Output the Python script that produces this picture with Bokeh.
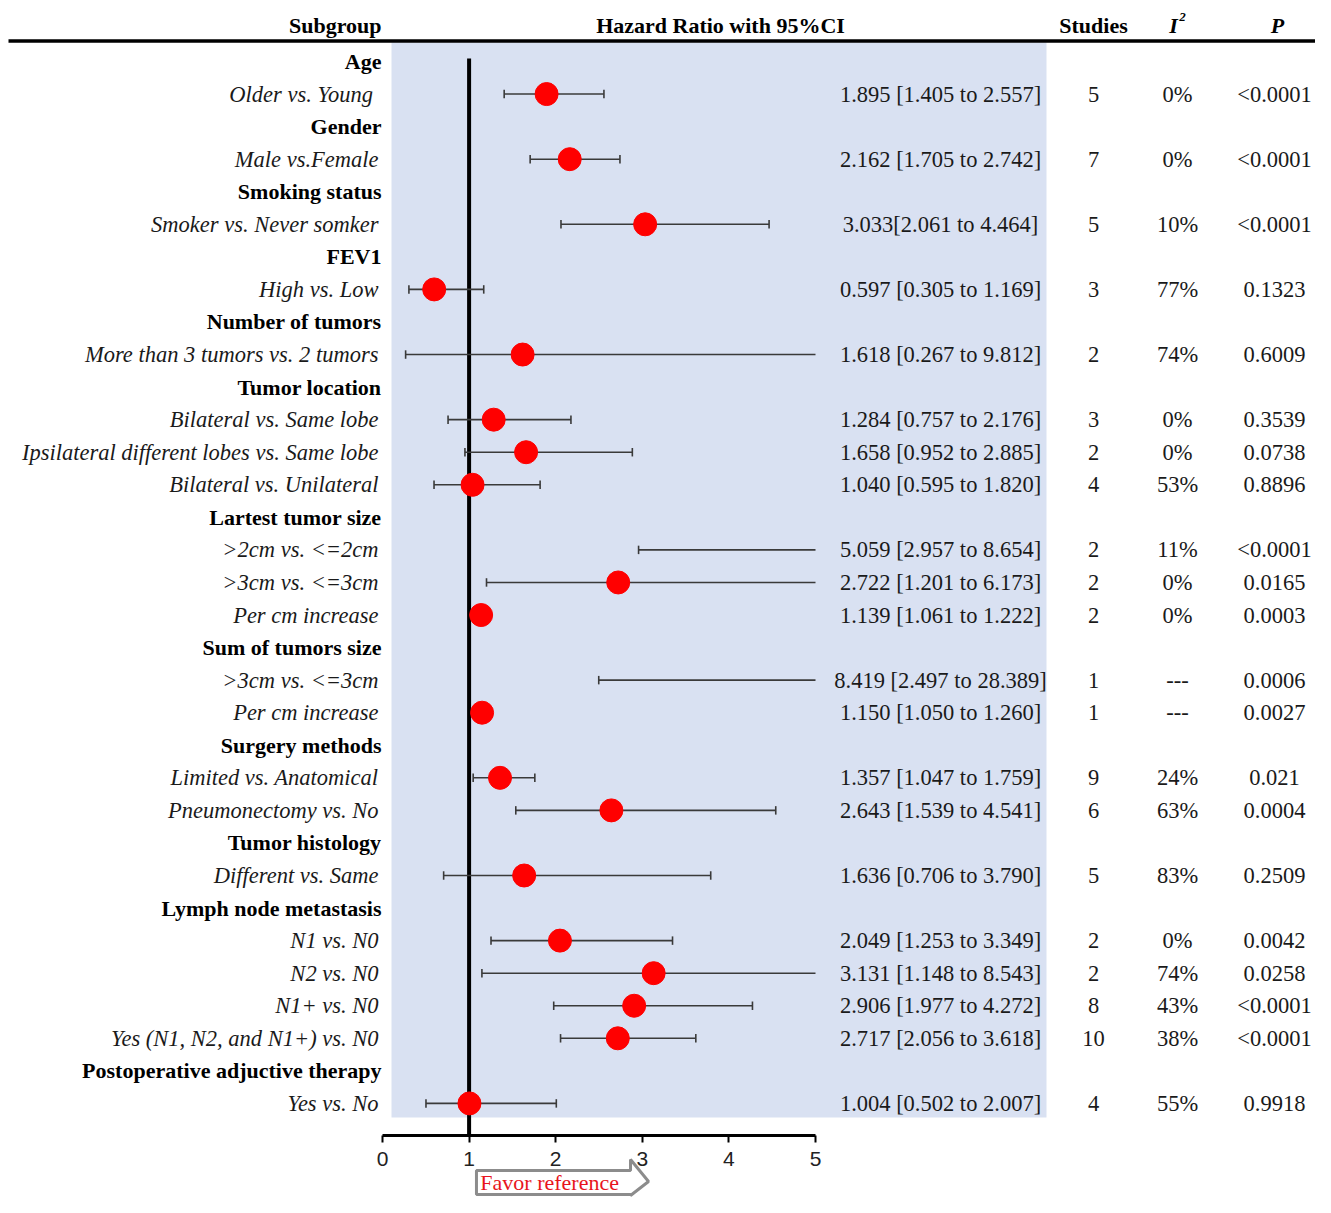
from bokeh.plotting import figure
from bokeh.models import ColumnDataSource, Range1d, LinearAxis, FixedTicker
from bokeh.core.properties import value
from bokeh.embed import file_html
from bokeh.resources import INLINE
import numpy as np

labels = ["Age", "Older vs.  Young", "Gender", "Male vs.Female", "Smoking status",
          "Smoker vs. Never somker", "FEV1", "High vs. Low", "Number of tumors",
          "More than 3 tumors vs. 2 tumors", "Tumor location", "Bilateral vs. Same lobe",
          "Ipsilateral different lobes vs. Same lobe", "Bilateral vs. Unilateral",
          "Lartest tumor size", ">2cm vs. <=2cm", ">3cm vs. <=3cm", "Per cm increase",
          "Sum of tumors size", ">3cm vs. <=3cm", "Per cm increase", "Surgery methods",
          "Limited vs. Anatomical", "Pneumonectomy vs. No", "Tumor histology",
          "Different vs. Same", "Lymph node metastasis", "N1 vs. N0", "N2 vs. N0",
          "N1+ vs. N0", "Yes (N1, N2, and N1+) vs. N0", "Postoperative adjuctive therapy",
          "Yes vs. No"]
is_header = [True, False, True, False, True, False, True, False, True, False, True,
             False, False, False, True, False, False, False, True, False, False, True,
             False, False, True, False, True, False, False, False, False, True, False]
hr = [None, 1.895, None, 2.162, None, 3.033, None, 0.597, None, 1.618, None, 1.284,
      1.658, 1.040, None, 5.059, 2.722, 1.139, None, 8.419, 1.150, None, 1.357, 2.643,
      None, 1.636, None, 2.049, 3.131, 2.906, 2.717, None, 1.004]
lower = [None, 1.405, None, 1.705, None, 2.061, None, 0.305, None, 0.267, None, 0.757,
         0.952, 0.595, None, 2.957, 1.201, 1.061, None, 2.497, 1.050, None, 1.047, 1.539,
         None, 0.706, None, 1.253, 1.148, 1.977, 2.056, None, 0.502]
upper = [None, 2.557, None, 2.742, None, 4.464, None, 1.169, None, 9.812, None, 2.176,
         2.885, 1.820, None, 8.654, 6.173, 1.222, None, 28.389, 1.260, None, 1.759, 4.541,
         None, 3.790, None, 3.349, 8.543, 4.272, 3.618, None, 2.007]
hr_text = ["", "1.895 [1.405 to 2.557]", "", "2.162 [1.705 to 2.742]", "",
           "3.033[2.061 to 4.464]", "", "0.597 [0.305 to 1.169]", "",
           "1.618 [0.267 to 9.812]", "", "1.284 [0.757 to 2.176]",
           "1.658 [0.952 to 2.885]", "1.040 [0.595 to 1.820]", "",
           "5.059 [2.957 to 8.654]", "2.722 [1.201 to 6.173]", "1.139 [1.061 to 1.222]", "",
           "8.419 [2.497 to 28.389]", "1.150 [1.050 to 1.260]", "",
           "1.357 [1.047 to 1.759]", "2.643 [1.539 to 4.541]", "",
           "1.636 [0.706 to 3.790]", "", "2.049 [1.253 to 3.349]", "3.131 [1.148 to 8.543]",
           "2.906 [1.977 to 4.272]", "2.717 [2.056 to 3.618]", "", "1.004 [0.502 to 2.007]"]
studies = ["", "5", "", "7", "", "5", "", "3", "", "2", "", "3", "2", "4", "", "2", "2",
           "2", "", "1", "1", "", "9", "6", "", "5", "", "2", "2", "8", "10", "", "4"]
i2 = ["", "0%", "", "0%", "", "10%", "", "77%", "", "74%", "", "0%", "0%", "53%", "",
      "11%", "0%", "0%", "", "---", "---", "", "24%", "63%", "", "83%", "", "0%", "74%",
      "43%", "38%", "", "55%"]
pvals = ["", "<0.0001", "", "<0.0001", "", "<0.0001", "", "0.1323", "", "0.6009", "",
         "0.3539", "0.0738", "0.8896", "", "<0.0001", "0.0165", "0.0003", "", "0.0006",
         "0.0027", "", "0.021", "0.0004", "", "0.2509", "", "0.0042", "0.0258", "<0.0001",
         "<0.0001", "", "0.9918"]
x_ticks = [0, 1, 2, 3, 4, 5]
x_max = 5.0

SERIF = value("Liberation Serif")
W, H = 1315, 1197
X0, XS = 382.0, 86.6          # pixel of HR=0, pixels per HR unit
Y0, YS = 61.0, 32.56          # pixel of row 0, pixels per row

p = figure(width=W, height=H, output_backend="svg", toolbar_location=None,
           x_range=Range1d(-X0 / XS, (W - X0) / XS),
           y_range=Range1d((H - Y0) / YS, -Y0 / YS),
           x_axis_location=None, y_axis_location=None,
           min_border_left=0, min_border_right=0, min_border_top=0, min_border_bottom=0)
p.extra_x_ranges = {"px": Range1d(0, W)}
p.outline_line_color = None
p.xgrid.visible = False
p.ygrid.visible = False
p.background_fill_color = "white"
p.border_fill_color = "white"


def ry(py):
    return (py - Y0) / YS


rows = np.arange(len(labels))

# blue background panel
p.quad(left=[391], right=[1046], top=[ry(42)], bottom=[ry(1117)], x_range_name="px",
       fill_color="#d9e1f2", line_color=None)

# header
p.segment(x0=[8], x1=[W], y0=[ry(40.5)], y1=[ry(40.5)], x_range_name="px",
          line_color="black", line_width=3.5)
hdr = dict(text_font=SERIF, text_font_style="bold", text_font_size="22px",
           text_baseline="middle", x_range_name="px", text_color="black")
p.text(x=[381], y=[ry(25)], text=["Subgroup"], text_align="right", **hdr)
p.text(x=[720], y=[ry(25)], text=["Hazard Ratio with 95%CI"], text_align="center", **hdr)
p.text(x=[1093], y=[ry(25)], text=["Studies"], text_align="center", **hdr)
p.text(x=[1173], y=[ry(25)], text=["I"], text_align="center",
       **{**hdr, "text_font_style": "bold italic"})
p.text(x=[1182], y=[ry(16)], text=["2"], text_align="center",
       **{**hdr, "text_font_style": "bold italic", "text_font_size": "13px"})
p.text(x=[1277], y=[ry(25)], text=["P"], text_align="center",
       **{**hdr, "text_font_style": "bold italic"})

# row labels
hx = [int(r) for r in rows if is_header[r]]
ix = [int(r) for r in rows if not is_header[r]]
p.text(x=[381] * len(hx), y=hx, text=[labels[r] for r in hx], text_align="right",
       text_baseline="middle", text_font=SERIF, text_font_style="bold",
       text_font_size="22px", x_range_name="px", text_color="black")
p.text(x=[378] * len(ix), y=ix, text=[labels[r] for r in ix], text_align="right",
       text_baseline="middle", text_font=SERIF, text_font_style="italic",
       text_font_size="22.5px", x_range_name="px", text_color="#1a1a1a")

# table columns
tab = dict(text_baseline="middle", text_font=SERIF, text_font_size="22.5px",
           x_range_name="px", text_color="#1a1a1a", text_align="center")
p.text(x=[940] * len(ix), y=ix, text=[hr_text[r] for r in ix], **tab)
p.text(x=[1093] * len(ix), y=ix, text=[studies[r] for r in ix], **tab)
p.text(x=[1177] * len(ix), y=ix, text=[i2[r] for r in ix], **tab)
p.text(x=[1274] * len(ix), y=ix, text=[pvals[r] for r in ix], **tab)

# reference line at HR = 1
p.segment(x0=[1], x1=[1], y0=[ry(58)], y1=[ry(1135)], line_color="black", line_width=4)

# confidence intervals (truncated at axis max)
ci_src = ColumnDataSource(dict(
    y=ix,
    lo=[lower[r] for r in ix],
    hi=[min(upper[r], x_max) for r in ix],
    ya=[r - 0.13 for r in ix],
    yb=[r + 0.13 for r in ix],
))
p.segment(x0="lo", x1="hi", y0="y", y1="y", source=ci_src, line_color="#3a3a3a",
          line_width=1.6)
p.segment(x0="lo", x1="lo", y0="ya", y1="yb", source=ci_src, line_color="#3a3a3a",
          line_width=1.6)
cap_r = [r for r in ix if upper[r] <= x_max]
p.segment(x0=[upper[r] for r in cap_r], x1=[upper[r] for r in cap_r],
          y0=[r - 0.13 for r in cap_r], y1=[r + 0.13 for r in cap_r],
          line_color="#3a3a3a", line_width=1.6)

# point estimates
pt_r = [r for r in ix if hr[r] <= x_max]
p.scatter(x=[hr[r] for r in pt_r], y=pt_r, size=23, fill_color="#ff0000",
          line_color="#ff0000", marker="circle")

# x axis
ax = LinearAxis(fixed_location=ry(1135), bounds=(0, 5), ticker=FixedTicker(ticks=x_ticks))
ax.axis_line_width = 3
ax.axis_line_color = "black"
ax.major_tick_line_width = 2
ax.major_tick_out = 7
ax.major_tick_in = 0
ax.minor_tick_line_color = None
ax.major_label_text_font = "Liberation Sans"
ax.major_label_text_font_size = "21px"
ax.major_label_text_color = "#222222"
ax.major_label_standoff = 9
p.add_layout(ax, "below")

# "Favor reference" arrow (kept inside the canvas)
p.patch(x=[1.085, 2.864, 2.864, 3.072, 2.864, 2.864, 1.085],
        y=[ry(1170), ry(1170), ry(1159), ry(1181), ry(1195), ry(1194), ry(1194)],
        fill_color="white", line_color="#8c8c8c", line_width=3)
p.text(x=[1.13], y=[ry(1182)], text=["Favor reference"], text_align="left",
       text_baseline="middle", text_font=SERIF, text_font_size="22px",
       text_color="#e8141c")

open("out.html", "w").write(file_html(p, INLINE))
